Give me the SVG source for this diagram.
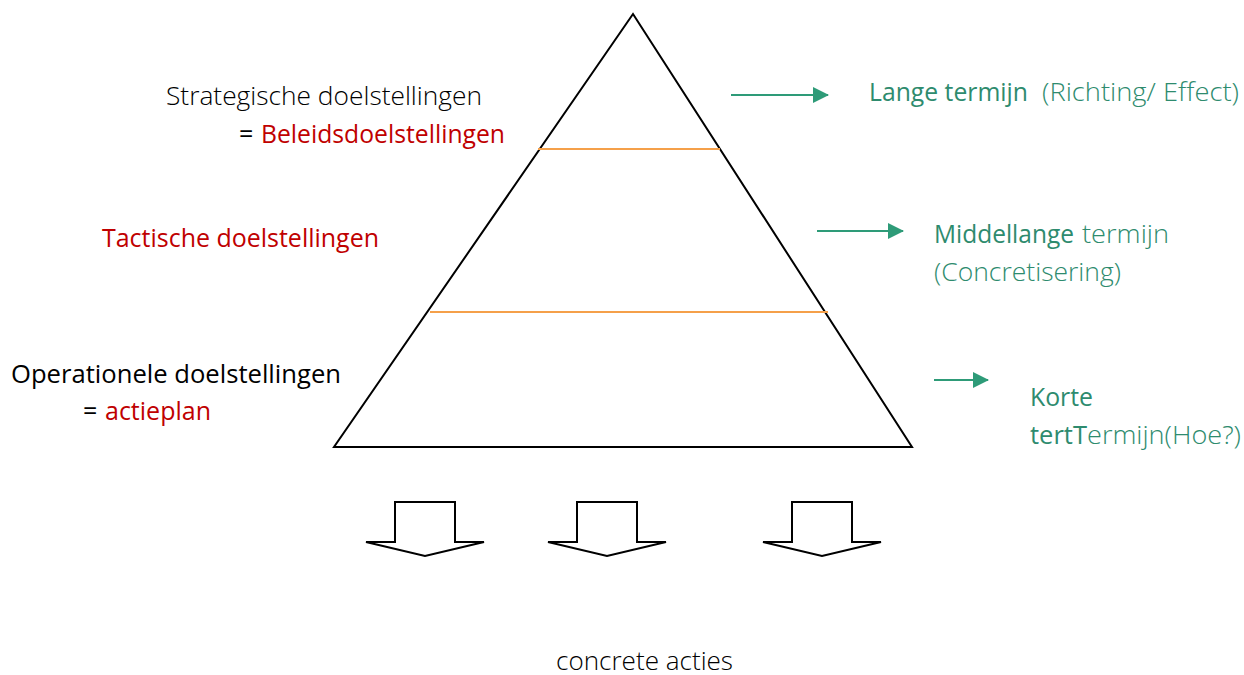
<svg xmlns="http://www.w3.org/2000/svg" width="1244" height="675" viewBox="0 0 1244 675">
<style>
text{font-family:"Open Sans","Noto Sans",sans-serif;font-size:25px}
.l{font-weight:300}
.r{font-weight:400}
.blk{fill:#000}
.red{fill:#c00000}
.grn{fill:#2e8b6e}
.tri{fill:none;stroke:#000;stroke-width:2}
.orng{stroke:#f5a04a;stroke-width:2}
.ga{stroke:#2e9b78;stroke-width:2;marker-end:url(#ah)}
.blka{fill:#fff;stroke:#000;stroke-width:2;stroke-linejoin:miter}
</style>
<defs>
<marker id="ah" markerWidth="16" markerHeight="16" refX="15" refY="8" orient="auto" markerUnits="userSpaceOnUse" viewBox="0 0 16 16">
<path d="M0,0 L16,8 L0,16 Z" fill="#2e9b78"/>
</marker>
</defs>
<rect width="1244" height="675" fill="#fff"/>
<g id="pyramid">
<polygon class="tri" points="633,14 334,447 912,447"/>
<line class="orng" x1="538" y1="149" x2="720" y2="149"/>
<line class="orng" x1="430" y1="312" x2="828" y2="312"/>
</g>
<g id="connectors">
<line class="ga" x1="731" y1="95" x2="828" y2="95"/>
<line class="ga" x1="817" y1="231" x2="903" y2="231"/>
<line class="ga" x1="934" y1="380" x2="988" y2="380"/>
</g>
<g id="strategic">
<text class="l blk" x="166" y="105" textLength="316" lengthAdjust="spacingAndGlyphs">Strategische doelstellingen</text>
<text class="r blk" x="239" y="143">=</text>
<text class="r red" x="261" y="143" textLength="244" lengthAdjust="spacingAndGlyphs">Beleidsdoelstellingen</text>
</g>
<g id="tactical">
<text class="r red" x="102" y="247" textLength="277" lengthAdjust="spacingAndGlyphs">Tactische doelstellingen</text>
</g>
<g id="operational">
<text class="r blk" x="11" y="383" textLength="330" lengthAdjust="spacingAndGlyphs">Operationele doelstellingen</text>
<text class="r blk" x="83" y="420">=</text>
<text class="r red" x="105" y="420" textLength="106" lengthAdjust="spacingAndGlyphs">actieplan</text>
</g>
<g id="long">
<text class="r grn" x="869" y="101" textLength="159" lengthAdjust="spacingAndGlyphs">Lange termijn</text>
<text class="l grn" x="1042" y="101" textLength="197" lengthAdjust="spacingAndGlyphs">(Richting/ Effect)</text>
</g>
<g id="mid">
<text class="r grn" x="934" y="243" textLength="140" lengthAdjust="spacingAndGlyphs">Middellange</text>
<text class="l grn" x="1082" y="243" textLength="87" lengthAdjust="spacingAndGlyphs">termijn</text>
<text class="l grn" x="934" y="281" textLength="187" lengthAdjust="spacingAndGlyphs">(Concretisering)</text>
</g>
<g id="short">
<text class="r grn" x="1030" y="406" textLength="63" lengthAdjust="spacingAndGlyphs">Korte</text>
<text class="r grn" x="1030" y="444" textLength="57" lengthAdjust="spacingAndGlyphs">tertT</text>
<text class="l grn" x="1087" y="444" textLength="154" lengthAdjust="spacingAndGlyphs">ermijn(Hoe?)</text>
</g>
<g id="blockarrows">
<polygon class="blka" points="395,502 455,502 455,542 484,542 425,556 366,542 395,542"/>
<polygon class="blka" points="577,502 637,502 637,542 666,542 607,556 548,542 577,542"/>
<polygon class="blka" points="792,502 852,502 852,542 881,542 822,556 763,542 792,542"/>
</g>
<g id="actions">
<text class="l blk" x="556" y="670" textLength="177" lengthAdjust="spacingAndGlyphs">concrete acties</text>
</g>
</svg>
